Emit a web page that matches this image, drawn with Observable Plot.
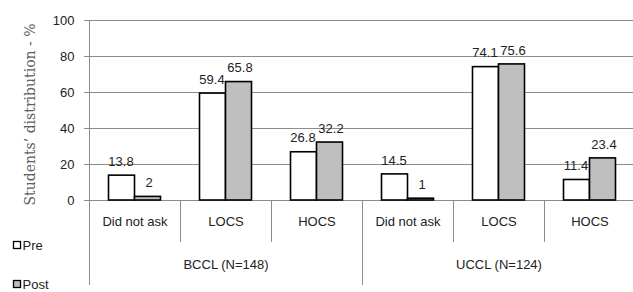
<!DOCTYPE html>
<html>
<head>
<meta charset="utf-8">
<script src="https://cdn.jsdelivr.net/npm/d3@7"></script>
<script src="https://cdn.jsdelivr.net/npm/@observablehq/plot@0.6"></script>
<style>
  html, body { margin: 0; padding: 0; background: #fff; }
  #chart { position: relative; width: 633px; height: 292px; overflow: hidden; }
</style>
</head>
<body>
<div id="chart"></div>
<script>
// ---- data ----
const groups = ["BCCL (N=148)", "UCCL (N=124)"];
const categories = ["Did not ask", "LOCS", "HOCS"];
const series = ["Pre", "Post"];
const preValues = [13.8, 59.4, 26.8, 14.5, 74.1, 11.4];
const postValues = [2, 65.8, 32.2, 1, 75.6, 23.4];
const yTicks = [0, 20, 40, 60, 80, 100];
const seriesColors = ["#ffffff", "#bfbfbf"];
const yLabel = "Students\u2019 distribution - %";

// ---- derived tables ----
const keys = groups.flatMap(g => categories.map(c => g + "|" + c));
const preData = keys.map((k, i) => ({key: k, cat: k.split("|")[1], value: preValues[i]}));
const postData = keys.map((k, i) => ({key: k, cat: k.split("|")[1], value: postValues[i]}));
const groupData = groups.map(g => ({key: g + "|" + categories[1], label: g}));

const gridColor = "#8c8c8c";
const font = "'Liberation Sans', Arial, sans-serif";

// custom mark: y-axis line, category/group separators, legend
function structure(index, scales, values, dim) {
  const x = scales.x, y = scales.y;
  const y0 = y(0), yTop = y(yTicks[yTicks.length - 1]);
  const g = d3.create("svg:g");
  const catBottom = y0 + 42, groupBottom = y0 + 85;
  // y axis line (continues down as first group separator)
  g.append("line").attr("x1", x(keys[0]) + 0.5).attr("x2", x(keys[0]) + 0.5)
    .attr("y1", yTop).attr("y2", groupBottom).attr("stroke", gridColor);
  keys.forEach((k, i) => {
    if (i === 0) return;
    const xx = Math.round(x(k)) + 0.5;
    const isGroup = i % categories.length === 0;
    g.append("line").attr("x1", xx).attr("x2", xx)
      .attr("y1", y0).attr("y2", isGroup ? groupBottom : catBottom)
      .attr("stroke", gridColor);
  });
  // legend
  series.forEach((s, i) => {
    const cy = 245 + i * 39;
    g.append("rect").attr("x", 13.5).attr("y", cy - 3.5).attr("width", 7).attr("height", 7)
      .attr("fill", seriesColors[i]).attr("stroke", "#000").attr("stroke-width", 1.3);
    g.append("text").attr("x", 22.5).attr("y", cy).attr("dy", "0.35em")
      .attr("text-anchor", "start")
      .attr("font-family", font).attr("font-size", 13).attr("fill", "#222").text(s);
  });
  return g.node();
}

const plot = Plot.plot({
  width: 633,
  height: 292,
  marginLeft: 89,
  marginRight: -2,
  marginTop: 20,
  marginBottom: 92,
  style: {fontFamily: font, fontSize: "13px", background: "#fff", color: "#222"},
  x: {domain: keys, padding: 0, axis: null},
  y: {domain: [0, 100], ticks: yTicks, axis: null},
  marks: [
    Plot.ruleY(yTicks, {stroke: gridColor, strokeWidth: 1}),
    Plot.axisY({ticks: yTicks, tickSize: 5, tickPadding: 10, label: null, stroke: gridColor, fill: "#222", fontSize: 13}),
    Plot.text([yLabel], {frameAnchor: "left", textAnchor: "middle", rotate: -90, dx: -59, dy: 4, text: d => d,
      fontFamily: "'DejaVu Serif', serif", fontSize: 14, fill: "#606060"}),
    Plot.barY(preData, {x: "key", y: "value", fill: seriesColors[0], stroke: "#000", strokeWidth: 1.6,
      insetLeft: 19.5, insetRight: 45.5}),
    Plot.barY(postData, {x: "key", y: "value", fill: seriesColors[1], stroke: "#000", strokeWidth: 1.6,
      insetLeft: 45.5, insetRight: 19.5}),
    Plot.text(preData, {x: "key", y: "value", text: d => String(d.value), dx: -14, dy: -14, fill: "#222", fontSize: 13}),
    Plot.text(postData, {x: "key", y: "value", text: d => String(d.value), dx: 14, dy: -14, fill: "#222", fontSize: 13}),
    Plot.text(preData, {x: "key", text: "cat", frameAnchor: "bottom", dy: 25, fill: "#222", fontSize: 13}),
    Plot.text(groupData, {x: "key", text: "label", frameAnchor: "bottom", dy: 68, fill: "#222", fontSize: 13}),
    structure
  ]
});
document.getElementById("chart").appendChild(plot);
</script>
</body>
</html>
